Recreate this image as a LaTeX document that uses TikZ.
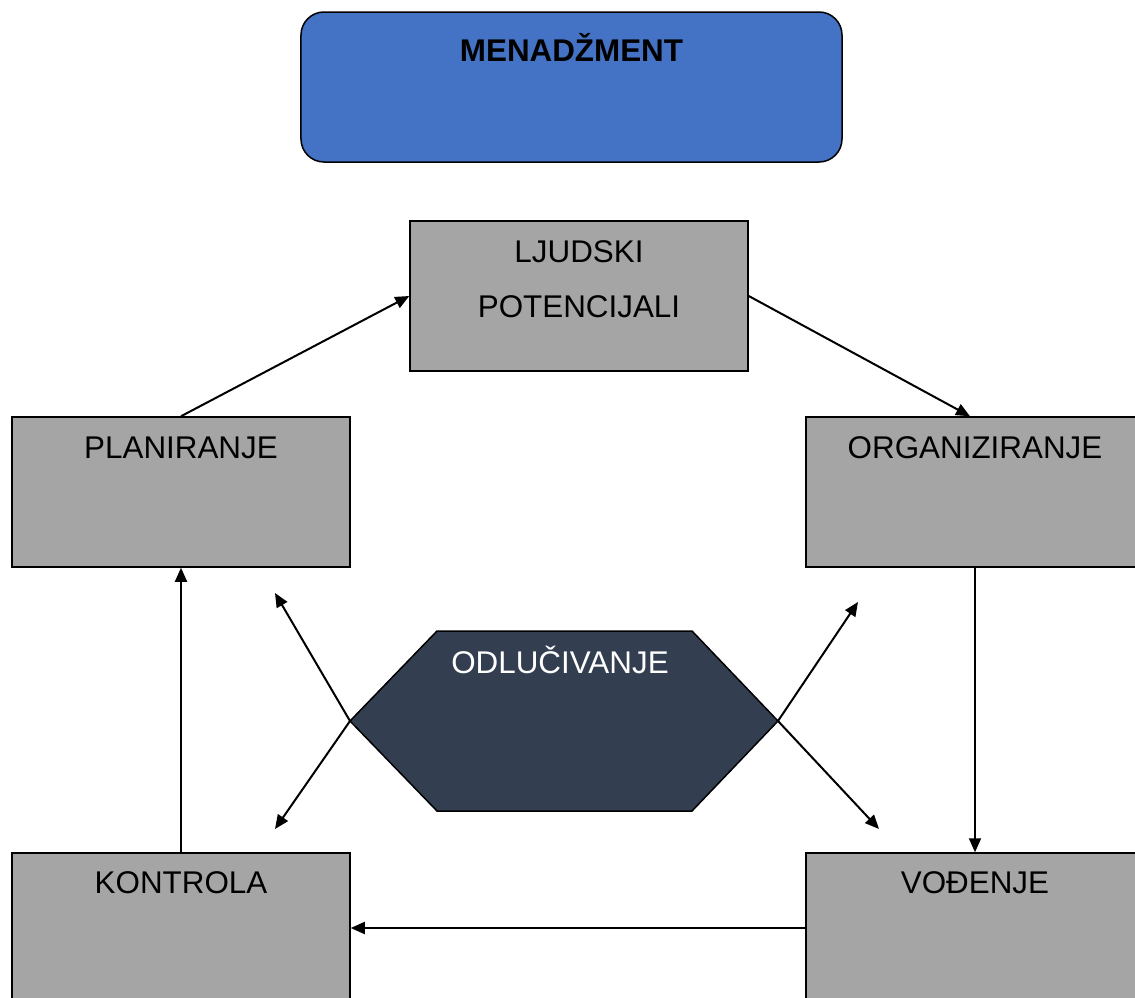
\documentclass[tikz,border=0pt]{standalone}
\usepackage{fontspec}
\setmainfont{Liberation Sans}
\usetikzlibrary{arrows.meta}
\definecolor{menblue}{HTML}{4472C4}
\definecolor{boxgray}{HTML}{A5A5A5}
\definecolor{hexdark}{HTML}{333F50}
\tikzset{
  gbox/.style={draw=black, line width=1.5bp, fill=boxgray, rectangle, minimum width=338bp, minimum height=150bp, inner sep=0pt},
  menbox/.style={draw=black, line width=1.5bp, fill=menblue, rectangle, rounded corners=23bp, minimum width=541bp, minimum height=150bp, inner sep=0pt},
  lbl/.style={anchor=base, inner sep=0pt, font=\fontsize{31.5}{37}\selectfont},
  arr/.style={draw=black, line width=2bp, -{Triangle[length=14bp,width=12bp]}},
  hexfill/.style={draw=black, line width=1.5bp, fill=hexdark}
}
\begin{document}
\begin{tikzpicture}[x=1bp,y=-1bp]
\clip (0,0) rectangle (1135,998);
\fill[white] (0,0) rectangle (1135,998);
% boxes
\node[menbox] (men) at (571.5,87) {};
\node[gbox] (ljud) at (579,296) {};
\node[gbox] (plan) at (181,492) {};
\node[gbox] (org) at (975,492) {};
\node[gbox] (kont) at (181,928) {};
\node[gbox] (vod) at (975,928) {};
% hexagon
\coordinate (hl) at (350,721);
\coordinate (hr) at (778,721);
\coordinate (htl) at (437,631);
\coordinate (htr) at (692,631);
\coordinate (hbr) at (692,811);
\coordinate (hbl) at (437,811);
\path[hexfill] (hl) -- (htl) -- (htr) -- (hr) -- (hbr) -- (hbl) -- cycle;
% free arrow ends
\coordinate (e1) at (275,593);
\coordinate (e2) at (275,829);
\coordinate (e3) at (858,602);
\coordinate (e4) at (879,829);
% texts
\node[lbl, font=\fontsize{31.5}{37}\selectfont\bfseries] (tmen) at (571.5,61) {MENADŽMENT};
\node[lbl] (tljud1) at (579,262) {LJUDSKI};
\node[lbl] (tljud2) at (579,317) {POTENCIJALI};
\node[lbl] (tplan) at (181,458) {PLANIRANJE};
\node[lbl] (torg) at (975,458) {ORGANIZIRANJE};
\node[lbl] (tkont) at (181,893) {KONTROLA};
\node[lbl] (tvod) at (975,893) {VOĐENJE};
\node[lbl, text=white] (todl) at (560,673) {ODLUČIVANJE};
% connectors
\draw[arr] (plan.north) -- (ljud.west);
\draw[arr] (ljud.east) -- ([xshift=-5bp]org.north);
\draw[arr] (org.south) -- (vod.north);
\draw[arr] (vod.west) -- (kont.east);
\draw[arr] (kont.north) -- (plan.south);
\draw[arr] (hl) -- (e1);
\draw[arr] (hl) -- (e2);
\draw[arr] (hr) -- (e3);
\draw[arr] (hr) -- (e4);
\end{tikzpicture}
\end{document}
